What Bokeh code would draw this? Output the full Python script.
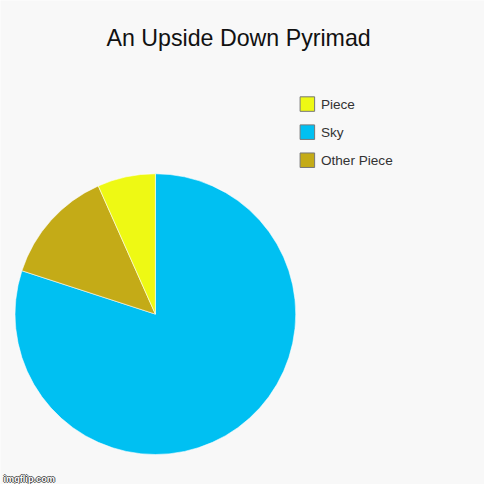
import numpy as np
from bokeh.plotting import figure
from bokeh.models import ColumnDataSource, Range1d
from bokeh.core.properties import value
from bokeh.embed import file_html
from bokeh.resources import INLINE

title = "An Upside Down Pyrimad"
labels = ["Piece", "Sky", "Other Piece"]
values = [1, 12, 2]
colors = ["#eef914", "#00c0f2", "#c4ab17"]
pie_order = ["Sky", "Other Piece", "Piece"]  # clockwise from 12 o'clock
watermark = "imgflip.com"

W = H = 484
S = W / 500.0
p = figure(width=W, height=H, x_range=Range1d(0, W), y_range=Range1d(0, H),
           output_backend="svg", toolbar_location=None, min_border=0)
p.axis.visible = False
p.grid.visible = False
p.outline_line_color = None
bg = "#f8f8f8"
p.background_fill_color = bg
p.border_fill_color = bg


def X(px):
    return px * S


def Y(py):
    return H - py * S


def F(px):
    return "%.1fpx" % (px * S)


total = sum(values)
idx = [labels.index(n) for n in pie_order]
starts, ends = [], []
a = np.pi / 2
for i in idx:
    starts.append(a)
    a -= 2 * np.pi * values[i] / total
    ends.append(a)
src = ColumnDataSource(dict(start=starts, end=ends, color=[colors[i] for i in idx]))
p.wedge(x=X(160), y=Y(324), radius=145 * S, start_angle='start', end_angle='end',
        direction='clock', fill_color='color', line_color='white', line_width=0.8,
        line_alpha=0.7, source=src)

# legend
rows = np.arange(len(labels))
ly = [Y(107 + 29 * r) for r in rows]
p.rect(x=X(317), y=ly, width=15 * S, height=15 * S, fill_color=colors,
       line_color="#777777", line_width=1)
p.text(x=X(331), y=ly, text=labels, text_font=value("Liberation Sans"),
       text_font_size=F(14), text_baseline="middle", text_color="#333333")

# title
p.text(x=[X(246)], y=[Y(39)], text=[title], text_font=value("Liberation Sans"),
       text_font_size=F(24), text_align="center", text_baseline="alphabetic",
       text_color="#111111")

# watermark
for dx, dy in [(-1, 0), (1, 0), (0, -1), (0, 1)]:
    p.text(x=[X(3) + dx], y=[Y(494) + dy], text=[watermark], text_font=value("Liberation Sans"),
           text_font_size=F(9.5), text_font_style="bold", text_baseline="alphabetic",
           text_color="#333333", text_alpha=0.8)
p.text(x=[X(3)], y=[Y(494)], text=[watermark], text_font=value("Liberation Sans"),
       text_font_size=F(9.5), text_font_style="bold", text_baseline="alphabetic",
       text_color="#ffffff")

open("out.html", "w").write(file_html(p, INLINE))
